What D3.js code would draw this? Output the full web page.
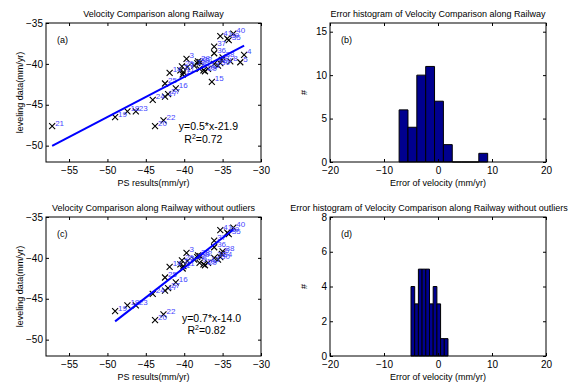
<!DOCTYPE html>
<html>
<head>
<meta charset="utf-8">
<script src="https://cdn.jsdelivr.net/npm/d3@7"></script>
<style>
  body { margin: 0; background: #fff; }
  svg { display: block; }
  svg text { font-family: "Liberation Sans", Arial, sans-serif; }
  .tick text { font-size: 10px; fill: #000; }
  .tick line { stroke: #000; }
</style>
</head>
<body>
<div id="chart"></div>
<script>
// point ids, PS velocity (x) and levelling velocity (y), mm/yr
const pointIds = [1, 2, 3, 4, 5, 6, 7, 8, 9, 10, 11, 12, 13, 14, 15, 16, 17, 18, 19, 20,
  21, 22, 23, 24, 25, 26, 27, 28, 29, 30, 31, 32, 33, 34, 35, 36, 37, 38, 39, 40, 41];
const psVel = [-40.2, -39.6, -39.7, -32.2, -32.7, -35.1, -40.5, -34.0, -38.0, -37.5,
  -40.1, -38.7, -36.9, -41.9, -36.4, -41.1, -42.5, -47.4, -49.0, -43.8,
  -57.2, -42.7, -46.3, -44.1, -42.5, -40.3, -42.1, -38.2, -37.3, -35.6,
  -36.1, -37.9, -38.3, -35.3, -34.2, -36.1, -36.1, -35.0, -34.4, -33.6, -35.3];
const levVel = [-41.3, -40.4, -39.4, -38.9, -39.8, -39.5, -40.8, -39.7, -40.6, -40.8,
  -41.0, -40.2, -40.6, -41.1, -42.2, -43.0, -44.0, -45.8, -46.5, -47.6,
  -47.6, -46.9, -45.8, -44.4, -42.4, -40.3, -43.7, -39.7, -40.9, -40.2,
  -40.0, -39.8, -39.9, -39.9, -37.1, -38.7, -37.9, -39.2, -36.9, -36.3, -36.6];
const outlierIds = [4, 5, 8, 15, 21];

// regression lines as drawn, and the printed equations
const fitAll = { slope: 0.49, intercept: -22.0 };
const fitClean = { slope: 0.73, intercept: -12.0 };
const eqAll = ["y=0.5*x-21.9", "0.72"];
const eqClean = ["y=0.7*x-14.0", "0.82"];

// histograms: 10 bins over [lo, hi]
const histAllRange = [-7.2, 9.2];
const histAllCounts = [6, 4, 10, 11, 7, 2, 0, 0, 0, 1];
const histCleanRange = [-5.0, 1.85];
const histCleanCounts = [4, 3, 5, 5, 5, 3, 4, 3, 1, 1];

const scatterXTicks = [-55, -50, -45, -40, -35, -30];
const scatterYTicks = [-50, -45, -40, -35];
const histXTicks = [-20, -10, 0, 10, 20];
const histAllYTicks = [0, 5, 10, 15];
const histCleanYTicks = [0, 2, 4, 6, 8];

const W = 579, H = 382;
const FONT = '"Liberation Sans", Arial, sans-serif';
const svg = d3.select('#chart').append('svg')
  .attr('width', W).attr('height', H);

function axis(g, gen) {
  g.call(gen)
    .attr('font-family', FONT).attr('font-size', 10)
    .call(a => a.select('.domain').remove());
}

function frame(g, x, y, xTicks, yTicks) {
  const [x0, x1] = x.range();
  const [y0, y1] = y.range();
  axis(g.append('g').attr('transform', `translate(0,${y0})`),
    d3.axisBottom(x).tickValues(xTicks).tickSize(-3).tickPadding(5));
  axis(g.append('g').attr('transform', `translate(0,${y1})`),
    d3.axisTop(x).tickValues(xTicks).tickSize(-3).tickFormat(''));
  axis(g.append('g').attr('transform', `translate(${x0},0)`),
    d3.axisLeft(y).tickValues(yTicks).tickSize(-3).tickPadding(3));
  axis(g.append('g').attr('transform', `translate(${x1},0)`),
    d3.axisRight(y).tickValues(yTicks).tickSize(-3).tickFormat(''));
  g.append('rect')
    .attr('x', x0).attr('y', y1)
    .attr('width', x1 - x0).attr('height', y0 - y1)
    .attr('fill', 'none').attr('stroke', '#000').attr('stroke-width', 1);
}

function labels(g, x, y, title, titleX, xLabel, yLabel, tag) {
  const [x0, x1] = x.range();
  const [y0, y1] = y.range();
  g.append('text').attr('x', titleX).attr('y', y1 - 6)
    .attr('text-anchor', 'middle').attr('font-size', 9).text(title);
  g.append('text').attr('x', (x0 + x1) / 2).attr('y', y0 + 23.5)
    .attr('text-anchor', 'middle').attr('font-size', 9).text(xLabel);
  g.append('text')
    .attr('transform', `translate(${x0 - 23},${(y0 + y1) / 2}) rotate(-90)`)
    .attr('text-anchor', 'middle').attr('font-size', 9).text(yLabel);
  g.append('text').attr('x', x0 + 11).attr('y', y1 + 20)
    .attr('font-size', 9).text(tag);
}

function drawScatter(top, ids, fit, eq, eqPos, title, tag) {
  const g = svg.append('g');
  const x = d3.scaleLinear().domain([-58, -30]).range([46, 261]);
  const y = d3.scaleLinear().domain([-52, -35]).range([top + 139, top]);
  frame(g, x, y, scatterXTicks, scatterYTicks);
  labels(g, x, y, title, 153.5, 'PS results(mm/yr)', 'leveling data(mm/yr)', tag);

  const pts = pointIds.map((id, i) => ({ id, px: psVel[i], lv: levVel[i] }))
    .filter(d => ids.includes(d.id));

  const m = 3;
  const mk = g.append('g').attr('stroke', '#000').attr('stroke-width', 1.1);
  mk.selectAll('path').data(pts).join('path')
    .attr('d', d => {
      const cx = x(d.px), cy = y(d.lv);
      return `M${cx - m},${cy - m}L${cx + m},${cy + m}M${cx - m},${cy + m}L${cx + m},${cy - m}`;
    });

  g.append('g').selectAll('text').data(pts).join('text')
    .attr('x', d => x(d.px) + 3)
    .attr('y', d => y(d.lv) - 0.5)
    .attr('font-size', 8).attr('fill', '#4646ff')
    .text(d => d.id);

  const ext = d3.extent(pts, d => d.px);
  const line = d3.line().x(d => x(d)).y(d => y(fit.slope * d + fit.intercept));
  g.append('path').datum(ext).attr('d', line)
    .attr('stroke', '#0000ff').attr('stroke-width', 2).attr('fill', 'none');

  // equation block, placed in data units
  g.append('text').attr('x', x(eqPos[0])).attr('y', y(eqPos[1]) + 3.5)
    .attr('font-size', 10.5).text(eq[0]);
  const r = g.append('text').attr('x', x(eqPos[0]) + 5.5).attr('y', y(eqPos[1] - 1.5) + 3.5)
    .attr('font-size', 10.5);
  r.append('tspan').text('R');
  r.append('tspan').attr('font-size', 7).attr('dy', -4).text('2');
  r.append('tspan').attr('dy', 4).text('=' + eq[1]);
}

function drawHist(top, range, counts, yMax, yTicks, title, titleX, tag) {
  const g = svg.append('g');
  const x = d3.scaleLinear().domain([-20, 20]).range([330, 546]);
  const y = d3.scaleLinear().domain([0, yMax]).range([top + 139, top]);
  const step = (range[1] - range[0]) / counts.length;
  const bins = counts.map((c, i) => ({ a: range[0] + i * step, b: range[0] + (i + 1) * step, c }));

  g.append('g').selectAll('path').data(bins).join('path')
    .attr('d', d => `M${x(d.a)},${y(0)}V${y(d.c)}H${x(d.b)}V${y(0)}Z`)
    .attr('fill', '#00008f').attr('stroke', '#000').attr('stroke-width', 1);

  frame(g, x, y, histXTicks, yTicks);
  labels(g, x, y, title, titleX, 'Error of velocity (mm/yr)', '#', tag);
}

const allIds = pointIds;
const cleanIds = pointIds.filter(id => !outlierIds.includes(id));

drawScatter(23, allIds, fitAll, eqAll, [-40.7, -47.7],
  'Velocity Comparison along Railway', '(a)');
drawHist(23, histAllRange, histAllCounts, 16, histAllYTicks,
  'Error histogram of Velocity Comparison along Railway', 438, '(b)');
drawScatter(217, cleanIds, fitClean, eqClean, [-40.3, -47.4],
  'Velocity Comparison along Railway without outliers', '(c)');
drawHist(217, histCleanRange, histCleanCounts, 8, histCleanYTicks,
  'Error histogram of Velocity Comparison along Railway without outliers', 429, '(d)');
</script>
</body>
</html>
